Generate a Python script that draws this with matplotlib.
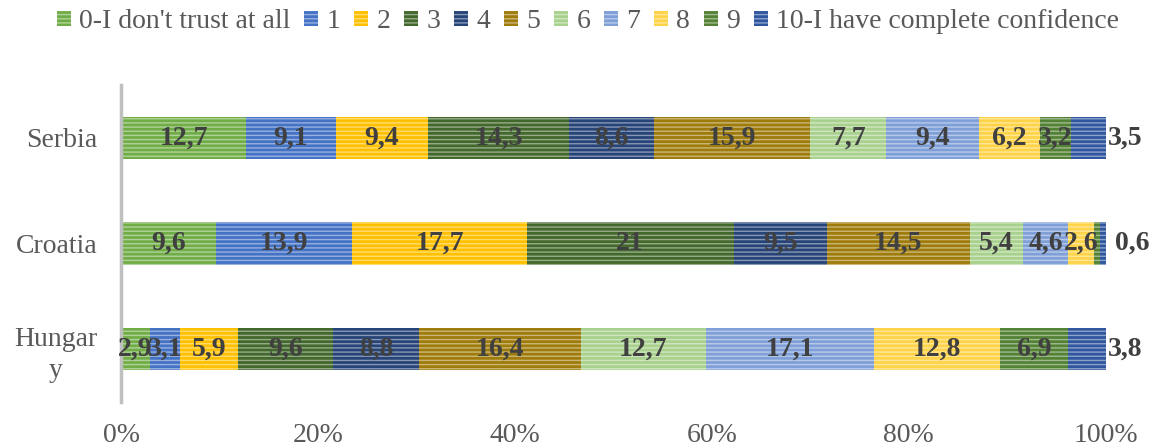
import matplotlib.pyplot as plt
import numpy as np

plt.rcParams["font.family"] = ["Liberation Serif", "DejaVu Serif"]
plt.rcParams["hatch.linewidth"] = 1.0

countries = ["Serbia", "Croatia", "Hungar\ny"]

levels = [
    "0-I don't trust at all", "1", "2", "3", "4", "5",
    "6", "7", "8", "9", "10-I have complete confidence",
]

# rows: level 0..10, columns: Serbia, Croatia, Hungary
values = [
    [12.7, 9.6, 2.9],
    [9.1, 13.9, 3.1],
    [9.4, 17.7, 5.9],
    [14.3, 21.0, 9.6],
    [8.6, 9.5, 8.8],
    [15.9, 14.5, 16.4],
    [7.7, 5.4, 12.7],
    [9.4, 4.6, 17.1],
    [6.2, 2.6, 12.8],
    [3.2, 0.6, 6.9],
    [3.5, 0.6, 3.8],
]

# labels that the chart leaves out
hidden = [(9, 1)]

colors = [
    "#70AD47", "#4472C4", "#FFC000", "#43682B", "#264478", "#9E7B0A",
    "#A9D18E", "#7F9FD8", "#FFD347", "#548235", "#2F569E",
]

end_offsets = [2, 9, 2]


def fmt(v):
    return f"{v:g}".replace(".", ",")


def main():

    fig = plt.figure(figsize=(11.53, 4.48), dpi=100)
    ax = fig.add_axes([0.105, 0.103, 0.854, 0.707])

    y = np.arange(len(countries))[::-1]
    left = np.zeros(len(countries))

    handles = []
    for i, (name, vals, col) in enumerate(zip(levels, values, colors)):
        vals = np.array(vals)
        bars = ax.barh(
            y, vals, left=left, height=0.4, color=col,
            edgecolor=(1, 1, 1, 0.45), linewidth=0, hatch="----",
            label=name,
        )
        handles.append(bars)
        for j, (b, v) in enumerate(zip(bars, vals)):
            if (i, j) in hidden:
                continue
            if i == len(levels) - 1:
                ax.annotate(
                    fmt(v), (left[j] + v, y[j]),
                    xytext=(end_offsets[j], 0), textcoords="offset pixels",
                    ha="left", va="center", fontsize=20,
                    fontweight="bold", color="#404040",
                )
            else:
                ax.text(
                    left[j] + v / 2, y[j], fmt(v),
                    ha="center", va="center", fontsize=20,
                    fontweight="bold", color="#404040",
                )
        left += vals

    ax.set_xlim(0, 100)
    ax.set_ylim(-0.5, 2.5)
    ax.set_xticks(np.arange(0, 101, 20))
    ax.set_xticklabels([f"{t}%" for t in range(0, 101, 20)])
    ax.set_yticks(y)
    ax.set_yticklabels(countries, linespacing=1.3)
    for lab in ax.get_yticklabels():
        lab.set_multialignment("center")

    ax.tick_params(axis="x", length=0, pad=15, labelsize=20, labelcolor="#595959")
    ax.tick_params(axis="y", length=0, pad=17, labelsize=20, labelcolor="#595959")

    for s in ["top", "right", "bottom"]:
        ax.spines[s].set_visible(False)
    ax.spines["left"].set_color("#BFBFBF")
    ax.spines["left"].set_linewidth(2.5)

    fig.legend(
        handles=handles, loc="upper center", bbox_to_anchor=(0.51, 1.035),
        ncol=11, frameon=False, fontsize=20, labelcolor="#595959",
        handlelength=0.5, handleheight=0.5, handletextpad=0.3,
        columnspacing=0.5,
    )

    fig.savefig("out.png", dpi=100)


if __name__ == "__main__":

    main()
